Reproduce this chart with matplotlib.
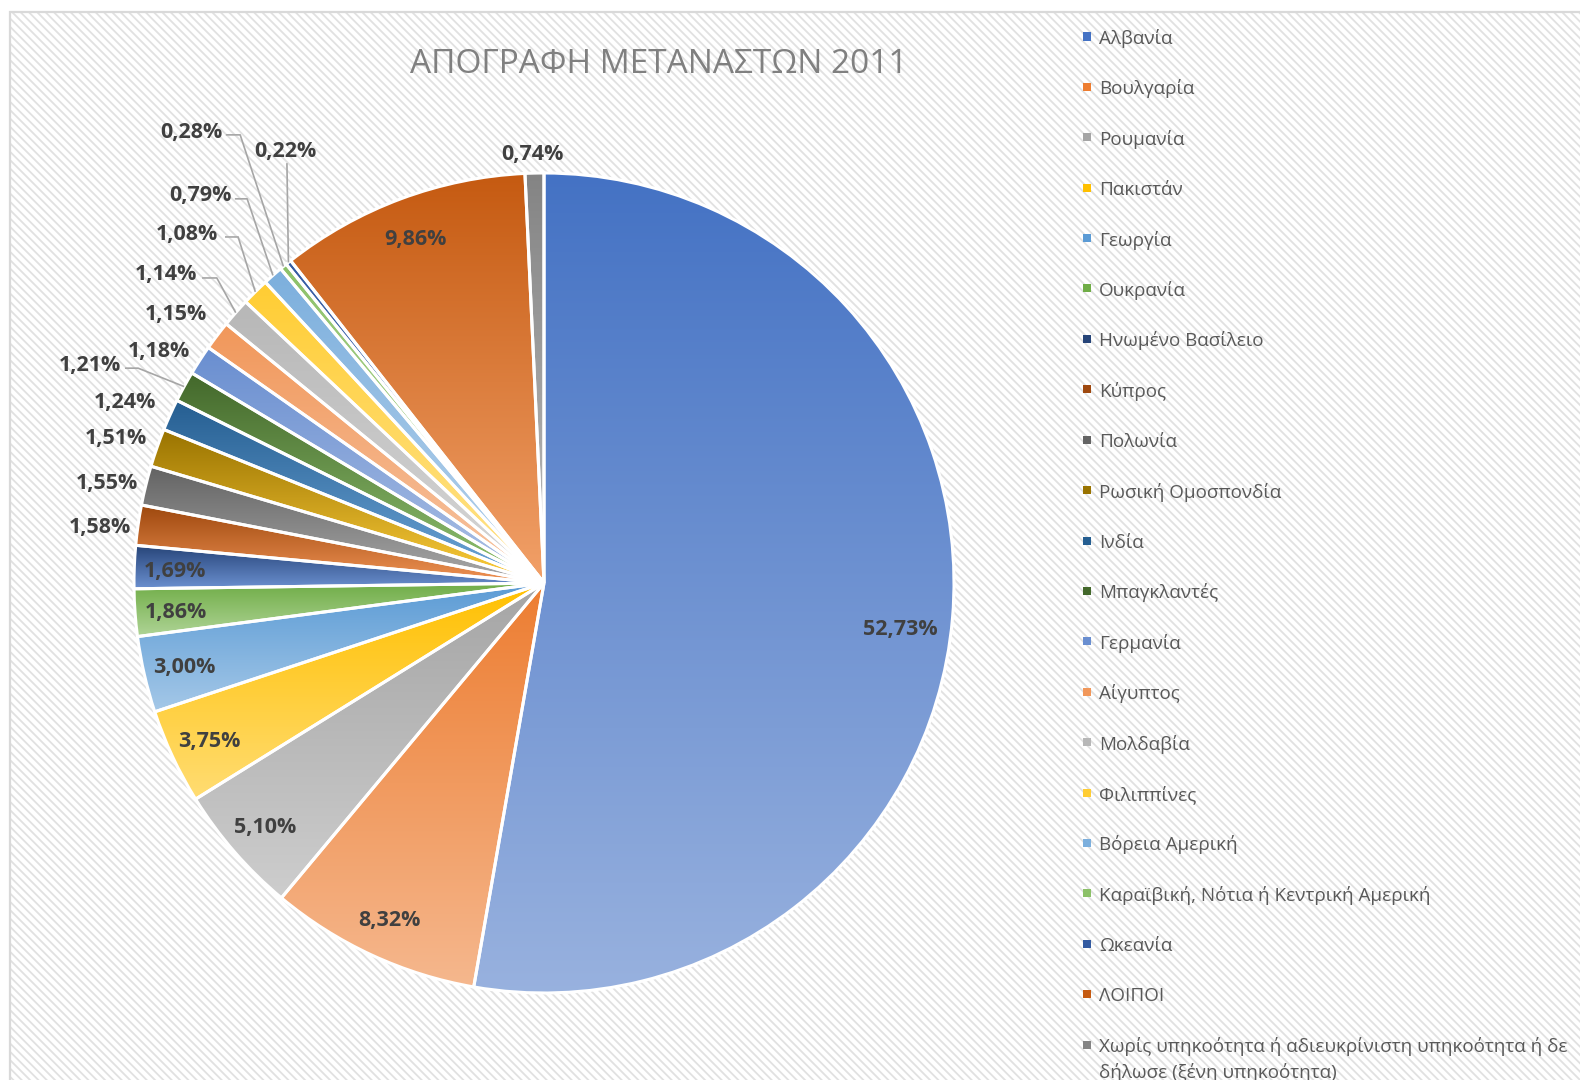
import colorsys
import textwrap

import numpy as np
import matplotlib
matplotlib.use("Agg")
import matplotlib.pyplot as plt
from matplotlib.colors import to_rgb
from matplotlib.patches import Rectangle

plt.rcParams['font.family'] = ['Open Sans', 'DejaVu Sans']
plt.rcParams['hatch.linewidth'] = 1.3

title = "ΑΠΟΓΡΑΦΗ ΜΕΤΑΝΑΣΤΩΝ 2011"

countries = [
    "Αλβανία", "Βουλγαρία", "Ρουμανία", "Πακιστάν", "Γεωργία", "Ουκρανία",
    "Ηνωμένο Βασίλειο", "Κύπρος", "Πολωνία", "Ρωσική Ομοσπονδία", "Ινδία",
    "Μπαγκλαντές", "Γερμανία", "Αίγυπτος", "Μολδαβία", "Φιλιππίνες",
    "Βόρεια Αμερική", "Καραϊβική, Νότια ή Κεντρική Αμερική", "Ωκεανία",
    "ΛΟΙΠΟΙ",
    "Χωρίς υπηκοότητα ή αδιευκρίνιστη υπηκοότητα ή δε δήλωσε (ξένη υπηκοότητα)",
]
shares = [52.73, 8.32, 5.10, 3.75, 3.00, 1.86, 1.69, 1.58, 1.55, 1.51, 1.24,
          1.21, 1.18, 1.15, 1.14, 1.08, 0.79, 0.28, 0.22, 9.86, 0.74]

# office palette: accents, dark accents, light accents, 80% accents
colors = [
    "#4472C4", "#ED7D31", "#A5A5A5", "#FFC000", "#5B9BD5", "#70AD47",
    "#264478", "#9E480E", "#636363", "#997300", "#255E91", "#43682B",
    "#698ED0", "#F1975A", "#B7B7B7", "#FFCD33", "#7CAFDD", "#8CC168",
    "#335AA1", "#C55A11", "#848484",
]

# layout (pixels of the 1580x1080 canvas)
W, H = 1580, 1080
CX, CY, R = 544, 583, 410

# label placement overrides: index -> (x, y, leader points) in pie-radius units
label_at = {
    0: (0.868, -0.107, None),
    7: (-1.083, 0.141, None),
    8: (-1.066, 0.250, None),
    9: (-1.044, 0.358, None),
    10: (-1.022, 0.446, None),
    11: (-1.107, 0.537, [(-1.022, 0.524), (-0.990, 0.524)]),
    12: (-0.939, 0.571, None),
    13: (-0.897, 0.662, None),
    14: (-0.922, 0.759, [(-0.834, 0.744), (-0.798, 0.744)]),
    15: (-0.871, 0.856, [(-0.778, 0.844), (-0.746, 0.844)]),
    16: (-0.839, 0.951, [(-0.754, 0.937), (-0.724, 0.937)]),
    17: (-0.861, 1.105, [(-0.776, 1.093), (-0.741, 1.093)]),
    18: (-0.632, 1.059, [(-0.627, 1.024)]),
    20: (-0.029, 1.051, None),
}


def lighter(c, amount=0.45):
    h, l, s = colorsys.rgb_to_hls(*to_rgb(c))
    return colorsys.hls_to_rgb(h, l + (1 - l) * amount, s)


fig = plt.figure(figsize=(W / 100, H / 100), dpi=100)
ax = fig.add_axes([0, 0, 1, 1])
ax.axis('off')

# chart area with diagonal stripes
ax.add_patch(Rectangle((10 / W, -0.01), 1.0, 1 - 12 / H + 0.01, transform=ax.transAxes,
                       facecolor='white', edgecolor='#E1E1E1', lw=0,
                       hatch='\\\\\\\\', zorder=0))
ax.add_patch(Rectangle((10 / W, -0.01), 1.0, 1 - 12 / H + 0.01, transform=ax.transAxes,
                       facecolor='none', edgecolor='#D9D9D9', lw=1.6, zorder=0.1))

wedges, _ = ax.pie(shares, startangle=90, counterclock=False, radius=1.0,
                   colors=colors,
                   wedgeprops=dict(edgecolor='white', linewidth=2.2))

# vertical gradient inside each slice
for w, c in zip(wedges, colors):
    bb = w.get_path().get_extents()
    top = np.array(to_rgb(c))
    bot = np.array(lighter(c))
    t = np.linspace(0, 1, 256)[:, None, None]
    grad = top * (1 - t) + bot * t
    im = ax.imshow(grad, extent=[bb.x0, bb.x1, bb.y0, bb.y1], origin='upper',
                   aspect='auto', interpolation='bilinear', zorder=1)
    im.set_clip_path(w)
    w.set_facecolor('none')
    w.set_zorder(2)

lab_kw = dict(fontsize=15.5, fontweight='bold', color='#404040',
              ha='center', va='center_baseline', zorder=5)
for i, (w, v) in enumerate(zip(wedges, shares)):
    txt = f"{v:.2f}".replace('.', ',') + '%'
    mid = np.deg2rad((w.theta1 + w.theta2) / 2)
    if i in label_at:
        x, y, leader = label_at[i]
        ax.text(x, y, txt, **lab_kw)
        if leader:
            pts = leader + [(np.cos(mid), np.sin(mid))]
            ax.plot([p[0] for p in pts], [p[1] for p in pts], color='#A6A6A6',
                    lw=1.2, zorder=4, solid_capstyle='butt')
    else:
        ax.text(0.9 * np.cos(mid), 0.9 * np.sin(mid), txt, **lab_kw)

ax.set_xlim(-CX / R, (W - CX) / R)
ax.set_ylim(-(H - CY) / R, CY / R)
ax.set_aspect('auto')

fig.text(659 / W, 1 - 73 / H, title, fontsize=24, color='#808080',
         ha='center', va='baseline')

# legend
row0, step, line_step = 36.5, 50.4, 26
for i, (name, c) in enumerate(zip(countries, colors)):
    lines = textwrap.wrap(name, 48)
    y = row0 + i * step
    fig.patches.append(Rectangle((1083 / W, 1 - (y + 4) / H), 8 / W, 8 / H,
                                 transform=fig.transFigure, facecolor=c,
                                 edgecolor='none', zorder=3))
    for k, ln in enumerate(lines):
        fig.text(1099 / W, 1 - (y + k * line_step) / H, ln, fontsize=13.6,
                 color='#595959', ha='left', va='center_baseline')

fig.savefig('out.png', dpi=100)
